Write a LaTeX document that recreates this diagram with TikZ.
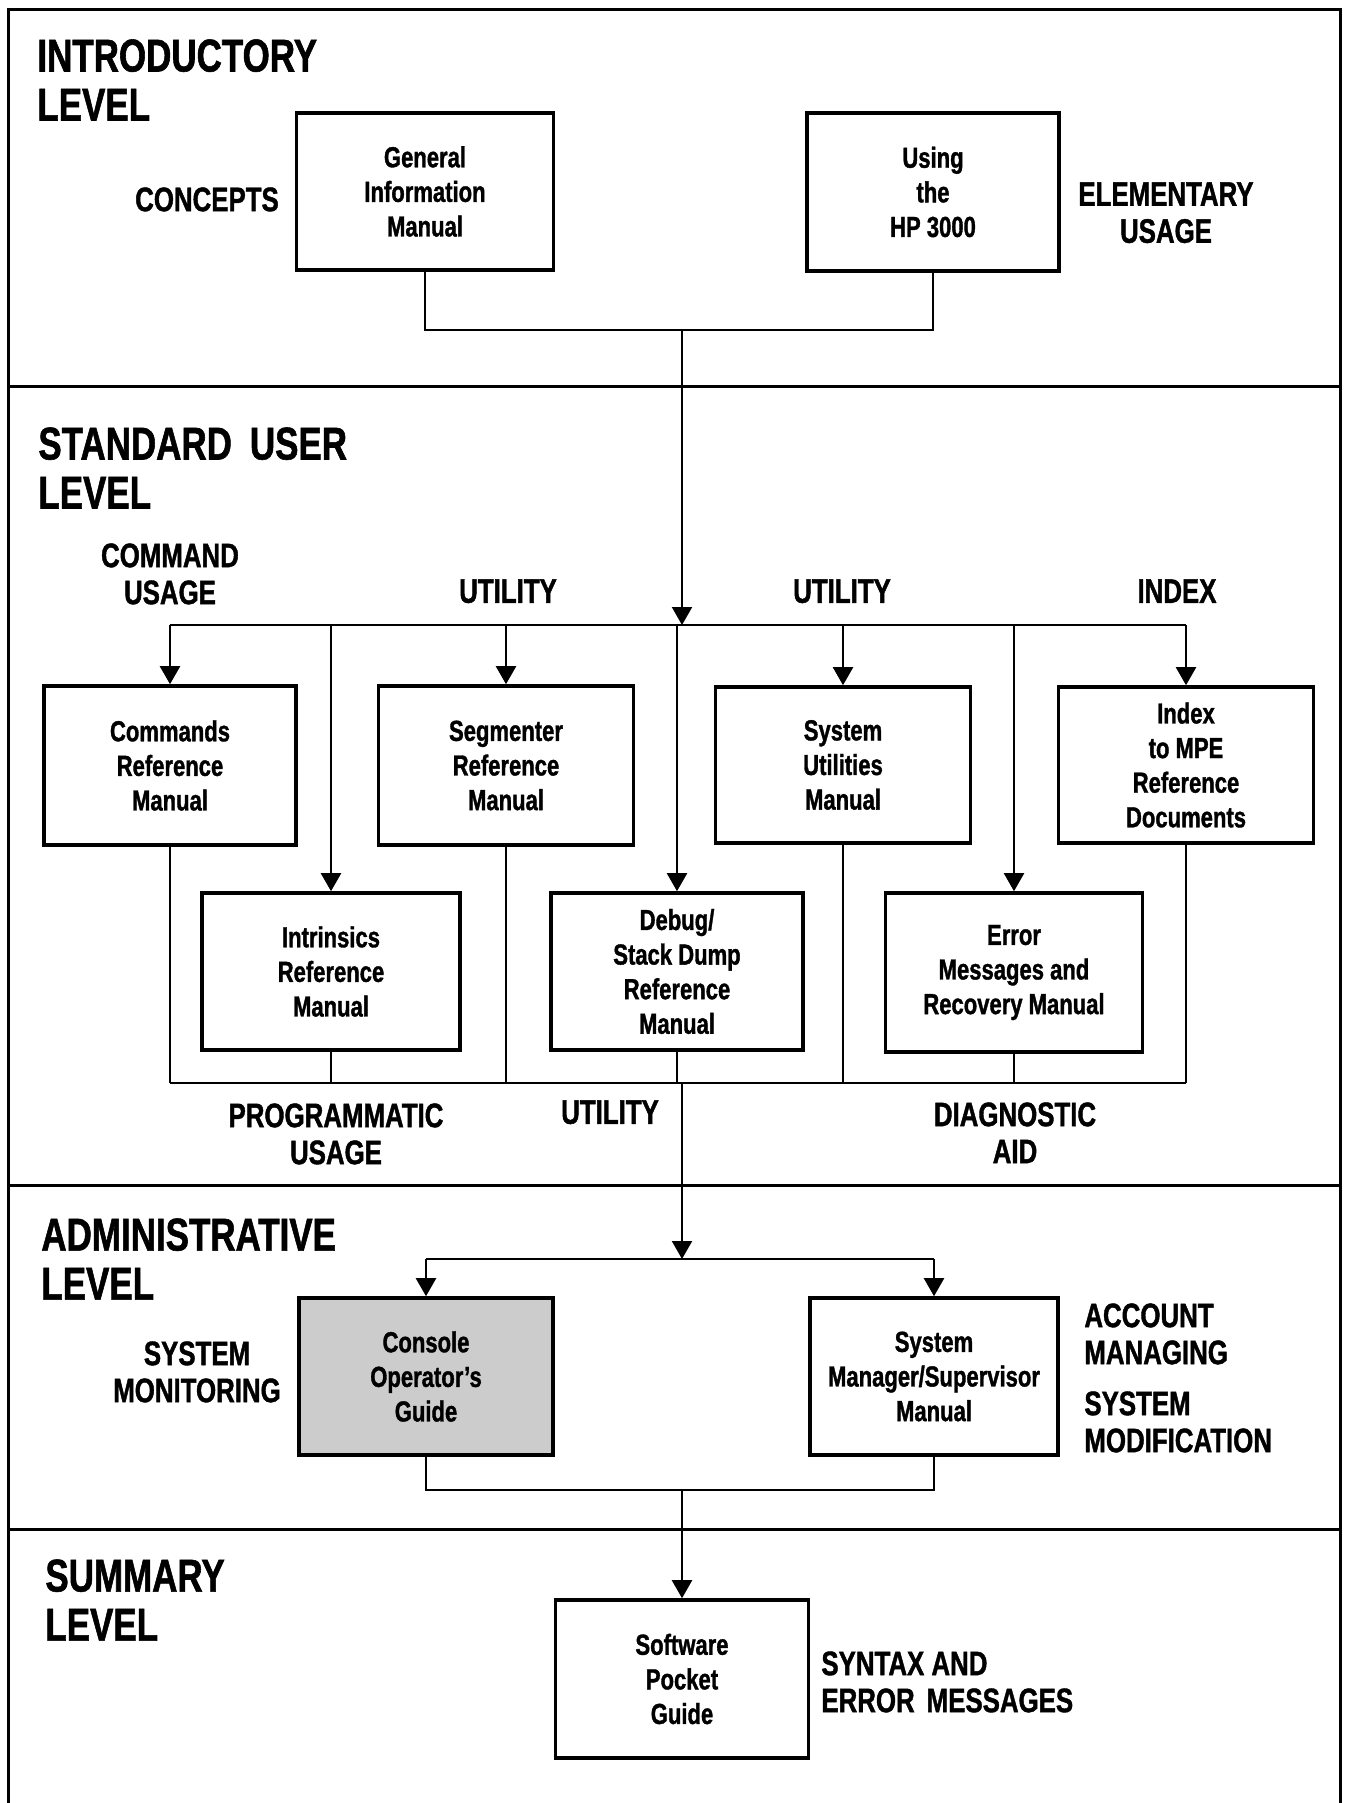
\documentclass[tikz,border=0pt]{standalone}
\usepackage{fontspec}
\setmainfont{Liberation Sans}[FakeStretch=0.76, BoldFeatures={FakeBold=1.2}]
\usetikzlibrary{arrows.meta}
\newcommand\hdfnt{\fontsize{23}{24.5}\selectfont\bfseries}
\newcommand\lbfnt{\fontsize{17}{18.5}\selectfont\bfseries}
\newcommand\bxfnt{\fontsize{14.5}{17.3}\selectfont\bfseries}
\definecolor{panelgray}{gray}{0.8}
\begin{document}
\begin{tikzpicture}[x=0.5pt,y=-0.5pt,
  box/.style={draw, line width=1.8pt, inner sep=0pt, align=center, font=\bxfnt},
  lvl/.style={inner sep=0pt, align=left, font=\hdfnt, anchor=north west},
  lab/.style={inner sep=0pt, align=center, font=\lbfnt, anchor=north},
  labl/.style={inner sep=0pt, align=left, font=\lbfnt, anchor=north west},
  conn/.style={line width=1.1pt},
  arr/.style={line width=1.1pt, -{Triangle[length=9pt,width=10pt]}},
  sep/.style={line width=1.5pt},
]
\useasboundingbox (0,0) rectangle (1344,1803);
% frame and level separators
\draw[sep] (8,1803) -- (8,10) -- (1340,10) -- (1340,1803);
\draw[sep] (8,386) -- (1340,386);
\draw[sep] (8,1185) -- (1340,1185);
\draw[sep] (8,1529) -- (1340,1529);

% level headings
\node[lvl] (hIntro) at (37,39) {INTRODUCTORY\\LEVEL};
\node[lvl] (hStd) at (38,427) {STANDARD\hspace{9pt}USER\\LEVEL};
\node[lvl] (hAdm) at (41,1218) {ADMINISTRATIVE\\LEVEL};
\node[lvl] (hSum) at (45,1559) {SUMMARY\\LEVEL};

% side labels
\node[lab] (lConc) at (207,187) {CONCEPTS};
\node[lab] (lElem) at (1166,182) {ELEMENTARY\\USAGE};
\node[lab] (lCmd) at (170,543) {COMMAND\\USAGE};
\node[lab] (lUt1) at (508,579) {UTILITY};
\node[lab] (lUt2) at (842,579) {UTILITY};
\node[lab] (lIdx) at (1177,579) {INDEX};
\node[lab] (lProg) at (336,1103) {PROGRAMMATIC\\USAGE};
\node[lab] (lUt3) at (610,1100) {UTILITY};
\node[lab] (lDiag) at (1015,1102) {DIAGNOSTIC\\AID};
\node[lab] (lMon) at (197,1341) {SYSTEM\\MONITORING};
\node[labl] (lAcc) at (1084,1303) {ACCOUNT\\MANAGING};
\node[labl] (lMod) at (1084,1391) {SYSTEM\\MODIFICATION};
\node[labl] (lSyn) at (821,1651) {SYNTAX AND\\ERROR\hspace{6pt}MESSAGES};

% boxes
\node[box, minimum width=128.5pt, minimum height=78.5pt] (gim) at (425,191.5) {General\\Information\\Manual};
\node[box, minimum width=126pt, minimum height=79pt] (using) at (933,192) {Using\\the\\HP 3000};
\node[box, minimum width=126pt, minimum height=79.5pt] (cmd) at (170,765.5) {Commands\\Reference\\Manual};
\node[box, minimum width=127.5pt, minimum height=79.5pt] (seg) at (506,765.5) {Segmenter\\Reference\\Manual};
\node[box, minimum width=127.5pt, minimum height=78pt] (sysutil) at (843,765) {System\\Utilities\\Manual};
\node[box, minimum width=127.5pt, minimum height=78pt] (index) at (1186,765) {Index\\to MPE\\Reference\\Documents};
\node[box, minimum width=129pt, minimum height=78.5pt] (intr) at (331,971.5) {Intrinsics\\Reference\\Manual};
\node[box, minimum width=126pt, minimum height=78.5pt] (debug) at (677,971.5) {Debug/\\Stack Dump\\Reference\\Manual};
\node[box, minimum width=128.5pt, minimum height=79.5pt] (error) at (1014,972.5) {Error\\Messages and\\Recovery Manual};
\node[box, fill=panelgray, minimum width=127pt, minimum height=78.5pt] (console) at (426,1376.5) {Console\\Operator's\\Guide};
\node[box, minimum width=124pt, minimum height=78.5pt] (sysmgr) at (934,1376.5) {System\\Manager/Supervisor\\Manual};
\node[box, minimum width=126.5pt, minimum height=79pt] (spg) at (682,1679) {Software\\Pocket\\Guide};

% connectors
\coordinate (j1) at (682,330);
\coordinate (b1) at (682,625);
\coordinate (b2) at (682,1083);
\coordinate (b3) at (682,1259);
\coordinate (b4) at (682,1490);

\draw[conn] (gim.south) |- (j1) -| (using.south);
\draw[arr] (j1) -- (b1);
\draw[conn] (cmd.north |- b1) -- (index.north |- b1);
\foreach \n in {cmd,seg,sysutil,index,intr,debug,error}
  \draw[arr] (\n.north |- b1) -- (\n.north);
\draw[conn] (cmd.south |- b2) -- (index.south |- b2);
\foreach \n in {cmd,seg,sysutil,index,intr,debug,error}
  \draw[conn] (\n.south) -- (\n.south |- b2);
\draw[arr] (b2) -- (b3);
\draw[conn] (console.north |- b3) -- (sysmgr.north |- b3);
\draw[arr] (console.north |- b3) -- (console.north);
\draw[arr] (sysmgr.north |- b3) -- (sysmgr.north);
\draw[conn] (console.south) |- (b4) -| (sysmgr.south);
\draw[arr] (b4) -- (spg.north);
\end{tikzpicture}
\end{document}
